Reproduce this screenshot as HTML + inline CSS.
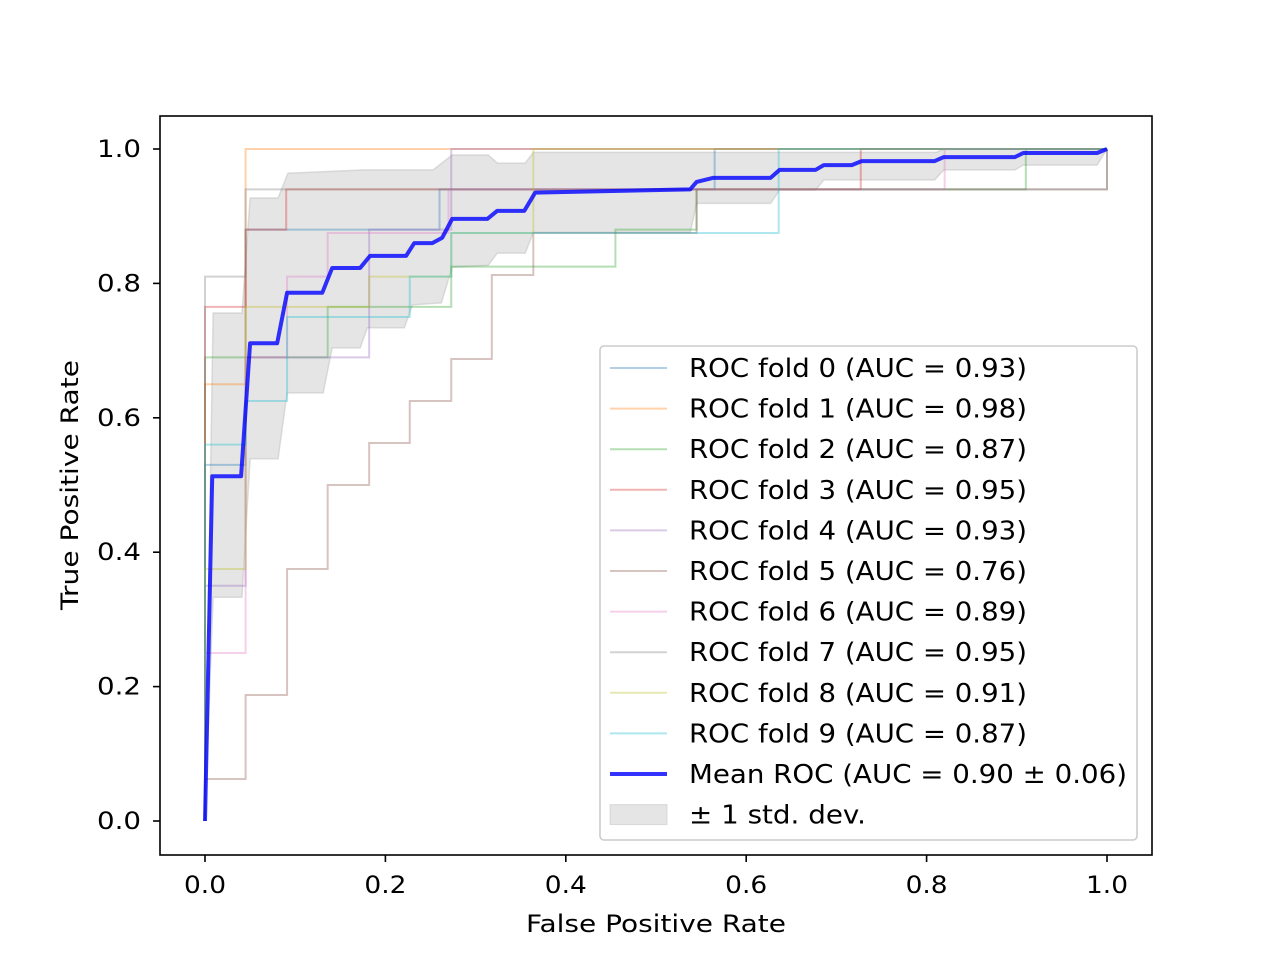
<!DOCTYPE html>
<html><head><meta charset="utf-8"><style>
html,body{margin:0;padding:0;background:#fff;}
svg{display:block;font-family:"DejaVu Sans","Liberation Sans",sans-serif;}
</style></head><body>
<svg id="chart" width="1280" height="960" viewBox="0 0 1280 960" xmlns="http://www.w3.org/2000/svg">
<rect x="0" y="0" width="1280" height="960" fill="#fff"/>
<g id="plot"></g>
</svg>
<script>
const foldLabels = ["ROC fold 0 (AUC = 0.93)","ROC fold 1 (AUC = 0.98)","ROC fold 2 (AUC = 0.87)","ROC fold 3 (AUC = 0.95)","ROC fold 4 (AUC = 0.93)","ROC fold 5 (AUC = 0.76)","ROC fold 6 (AUC = 0.89)","ROC fold 7 (AUC = 0.95)","ROC fold 8 (AUC = 0.91)","ROC fold 9 (AUC = 0.87)"];
const foldColors = ["#1f77b4","#ff7f0e","#2ca02c","#d62728","#9467bd","#8c564b","#e377c2","#7f7f7f","#bcbd22","#17becf"];
const fold0 = [[0,0],[0,0.53],[0.045,0.53],[0.045,0.88],[0.26,0.88],[0.26,0.94],[0.565,0.94],[0.565,1],[1,1]];
const fold1 = [[0,0],[0,0.65],[0.045,0.65],[0.045,1],[1,1]];
const fold2 = [[0,0],[0,0.69],[0.136,0.69],[0.136,0.765],[0.273,0.765],[0.273,0.825],[0.455,0.825],[0.455,0.88],[0.545,0.88],[0.545,0.94],[0.91,0.94],[0.91,1],[1,1]];
const fold3 = [[0,0],[0,0.765],[0.045,0.765],[0.045,0.88],[0.09,0.88],[0.09,0.94],[0.727,0.94],[0.727,1],[1,1]];
const fold4 = [[0,0],[0,0.35],[0.045,0.35],[0.045,0.69],[0.182,0.69],[0.182,0.88],[0.273,0.88],[0.273,1],[1,1]];
const fold5 = [[0,0],[0,0.0625],[0.045,0.0625],[0.045,0.1875],[0.091,0.1875],[0.091,0.375],[0.136,0.375],[0.136,0.5],[0.182,0.5],[0.182,0.5625],[0.227,0.5625],[0.227,0.625],[0.273,0.625],[0.273,0.6875],[0.318,0.6875],[0.318,0.8125],[0.364,0.8125],[0.364,0.875],[0.545,0.875],[0.545,0.94],[1,0.94],[1,1]];
const fold6 = [[0,0],[0,0.25],[0.045,0.25],[0.045,0.69],[0.091,0.69],[0.091,0.81],[0.136,0.81],[0.136,0.875],[0.27,0.875],[0.27,0.94],[0.82,0.94],[0.82,1],[1,1]];
const fold7 = [[0,0],[0,0.81],[0.045,0.81],[0.045,0.94],[1,0.94],[1,1]];
const fold8 = [[0,0],[0,0.375],[0.045,0.375],[0.045,0.765],[0.182,0.765],[0.182,0.81],[0.273,0.81],[0.273,0.875],[0.364,0.875],[0.364,1],[1,1]];
const fold9 = [[0,0],[0,0.56],[0.045,0.56],[0.045,0.625],[0.091,0.625],[0.091,0.75],[0.227,0.75],[0.227,0.81],[0.273,0.81],[0.273,0.875],[0.636,0.875],[0.636,1],[1,1]];
const folds = [fold0,fold1,fold2,fold3,fold4,fold5,fold6,fold7,fold8,fold9];
const meanFpr = [0,0.008,0.040,0.050,0.080,0.091,0.130,0.141,0.172,0.183,0.223,0.232,0.252,0.263,0.274,0.313,0.324,0.354,0.366,0.538,0.545,0.563,0.627,0.637,0.677,0.686,0.717,0.728,0.809,0.819,0.898,0.907,0.989,1];
const meanTpr = [0,0.513,0.513,0.711,0.711,0.786,0.786,0.823,0.823,0.841,0.841,0.860,0.860,0.868,0.896,0.896,0.908,0.908,0.935,0.940,0.951,0.957,0.957,0.969,0.969,0.976,0.976,0.982,0.982,0.988,0.988,0.994,0.994,1];
const upperFpr = [0,0.009,0.041,0.050,0.081,0.092,0.177,0.253,0.274,0.314,0.324,0.355,0.364,0.811,0.819,1];
const upperTpr = [0,0.756,0.756,0.927,0.927,0.964,0.969,0.969,0.991,0.991,0.979,0.979,0.995,0.995,1,1];
const lowerFpr = [0,0.009,0.041,0.050,0.081,0.091,0.131,0.141,0.172,0.180,0.221,0.230,0.262,0.274,0.314,0.324,0.355,0.364,0.538,0.545,0.627,0.637,0.677,0.686,0.809,0.819,0.898,0.907,0.989,1];
const lowerTpr = [0,0.333,0.333,0.539,0.539,0.637,0.637,0.704,0.704,0.734,0.734,0.768,0.771,0.824,0.827,0.845,0.845,0.876,0.876,0.919,0.919,0.939,0.939,0.954,0.954,0.969,0.969,0.976,0.976,1];
const xTicks = [0,0.2,0.4,0.6,0.8,1.0];
const yTicks = [0,0.2,0.4,0.6,0.8,1.0];
const tickLabels = ["0.0","0.2","0.4","0.6","0.8","1.0"];
const meanLabel = "Mean ROC (AUC = 0.90 \u00b1 0.06)";
const stdLabel = "\u00b1 1 std. dev.";

const NS="http://www.w3.org/2000/svg";
const g=document.getElementById('plot');
const X=v=>205+v*902, Y=v=>821-v*672;
function mk(t,a,p){const e=document.createElementNS(NS,t);for(const k in a)e.setAttribute(k,a[k]);(p||g).appendChild(e);return e;}
let pts=upperFpr.map((f,i)=>X(f)+','+Y(upperTpr[i]));
for(let i=lowerFpr.length-1;i>=0;i--)pts.push(X(lowerFpr[i])+','+Y(lowerTpr[i]));
const band=mk('polygon',{points:pts.join(' '),fill:'#bfbfbf','fill-opacity':0.4,stroke:'#bfbfbf','stroke-opacity':0.5,'stroke-width':1.5});


folds.forEach((f,i)=>{
  const l=mk('polyline',{points:f.map(p=>X(p[0])+','+Y(p[1])).join(' '),fill:'none',stroke:foldColors[i],'stroke-opacity':0.35,'stroke-width':2});
  
  
});
const m=mk('polyline',{points:meanFpr.map((f,i)=>X(f)+','+Y(meanTpr[i])).join(' '),fill:'none',stroke:'#0000ff','stroke-opacity':0.8,'stroke-width':4,'stroke-linejoin':'round'});


const fr=mk('rect',{x:160,y:116,width:992,height:739,fill:'none',stroke:'#000','stroke-width':1.6});


xTicks.forEach((v,i)=>{
  mk('line',{x1:X(v),x2:X(v),y1:855,y2:862,stroke:'#000','stroke-width':1.6});
  const t=mk('text',{x:X(v),y:893,'font-size':24,'text-anchor':'middle',fill:'#000',textLength:42,lengthAdjust:'spacingAndGlyphs'});t.textContent=tickLabels[i];
  
  
});
yTicks.forEach((v,i)=>{
  mk('line',{x1:153,x2:160,y1:Y(v),y2:Y(v),stroke:'#000','stroke-width':1.6});
  const t=mk('text',{x:141,y:Y(v)+8,'font-size':24,'text-anchor':'end',fill:'#000',textLength:44,lengthAdjust:'spacingAndGlyphs'});t.textContent=tickLabels[i];
  
  
});
const xt=mk('text',{x:526,y:932,'font-size':24,textLength:260,lengthAdjust:'spacingAndGlyphs'});xt.textContent='False Positive Rate';


const yt=mk('text',{x:0,y:0,'font-size':24,textLength:250,lengthAdjust:'spacingAndGlyphs',transform:'translate(78,610) rotate(-90)'});yt.textContent='True Positive Rate';


const lg=mk('g',{});


mk('rect',{x:600,y:346,width:537,height:494,rx:4,fill:'#fff','fill-opacity':0.8,stroke:'#ccc','stroke-width':1.6},lg);
const labels=foldLabels.concat([meanLabel,stdLabel]);
const lens=[338,338,338,338,338,338,338,338,338,338,438,177];
labels.forEach((s,i)=>{
  const cy=368+i*40.6;
  if(i<10){mk('line',{x1:610,x2:667,y1:cy,y2:cy,stroke:foldColors[i],'stroke-opacity':0.35,'stroke-width':2},lg);}
  else if(i==10){mk('line',{x1:610,x2:667,y1:cy,y2:cy,stroke:'#0000ff','stroke-opacity':0.8,'stroke-width':4},lg);}
  else {mk('rect',{x:610,y:cy-10,width:57,height:20,fill:'#bfbfbf','fill-opacity':0.4,stroke:'#bfbfbf','stroke-opacity':0.5},lg);}
  const t=mk('text',{x:689,y:cy+9,'font-size':26,fill:'#000',textLength:lens[i],lengthAdjust:'spacingAndGlyphs'},lg);t.textContent=s;
  
  
});
</script>
</body></html>
